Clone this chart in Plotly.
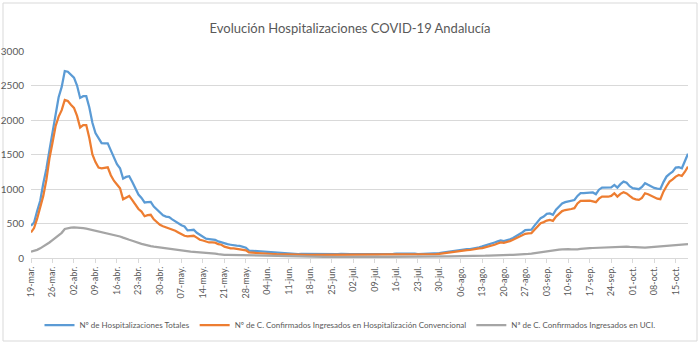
import pandas as pd
import plotly.graph_objects as go

start_date = "2020-03-19"

totales = [
    467, 515, 680, 830, 1080, 1290, 1560,
    1800, 2050, 2330, 2480, 2710, 2700, 2650,
    2615, 2500, 2320, 2345, 2345, 2180, 1960,
    1810, 1740, 1665, 1660, 1662, 1560, 1450,
    1360, 1300, 1150, 1175, 1185, 1100, 1000,
    920, 870, 805, 810, 812, 745, 700,
    660, 620, 600, 592, 560, 530, 496,
    475, 457, 400, 405, 409, 365, 335,
    303, 280, 275, 268, 264, 240, 225,
    210, 200, 192, 182, 178, 175, 165,
    150, 108, 105, 100, 96, 92, 90,
    86, 80, 74, 72, 68, 64, 62,
    60, 58, 57, 58, 60, 59, 57,
    56, 57, 58, 62, 60, 58, 57,
    56, 55, 56, 60, 62, 59, 57,
    56, 55, 57, 60, 59, 57, 56,
    55, 56, 58, 61, 63, 62, 60,
    62, 64, 66, 65, 63, 62, 64,
    55, 56, 57, 58, 60, 62, 66,
    72, 78, 85, 92, 100, 108, 118,
    122, 125, 128, 130, 135, 144, 155,
    168, 180, 192, 205, 225, 240, 254,
    246, 256, 272, 289, 312, 337, 370,
    405, 409, 410, 470, 530, 578, 600,
    640, 645, 626, 700, 750, 790, 810,
    818, 830, 840, 900, 940, 940, 945,
    948, 950, 925, 990, 1020, 1020, 1018,
    1025, 1060, 1020, 1070, 1107, 1090, 1040,
    1012, 1000, 997, 1030, 1084, 1060, 1035,
    1015, 1005, 1000, 1100, 1180, 1220, 1250,
    1310, 1315, 1300, 1420, 1510,
]

convencional = [
    370, 434, 570, 720, 900, 1130, 1440,
    1670, 1910, 2050, 2143, 2290, 2275, 2220,
    2176, 2060, 1890, 1926, 1926, 1740, 1500,
    1390, 1310, 1300, 1305, 1315, 1200, 1120,
    1065, 1010, 850, 880, 900, 840, 770,
    710, 673, 605, 620, 626, 560, 515,
    481, 460, 445, 434, 415, 395, 370,
    345, 322, 312, 315, 322, 295, 265,
    254, 235, 225, 225, 222, 200, 192,
    165, 150, 140, 138, 132, 130, 125,
    112, 80, 76, 74, 72, 70, 68,
    66, 62, 58, 56, 54, 52, 50,
    49, 48, 47, 47, 48, 48, 46,
    46, 46, 47, 49, 48, 47, 46,
    45, 45, 46, 48, 49, 47, 46,
    45, 44, 46, 48, 47, 46, 45,
    44, 45, 47, 50, 52, 51, 49,
    50, 52, 54, 53, 51, 50, 52,
    45, 46, 47, 48, 50, 52, 55,
    60, 66, 72, 80, 88, 96, 104,
    108, 110, 113, 116, 120, 130, 138,
    144, 155, 168, 180, 192, 210, 225,
    220, 230, 245, 264, 285, 305, 330,
    351, 358, 361, 410, 465, 505, 520,
    543, 553, 539, 600, 640, 680, 695,
    700, 710, 722, 790, 828, 828, 830,
    832, 820, 809, 860, 890, 890, 888,
    900, 939, 890, 930, 954, 935, 900,
    867, 850, 842, 870, 939, 925, 905,
    881, 860, 852, 962, 1040, 1107, 1141,
    1180, 1204, 1189, 1250, 1324,
]

uci = [
    91, 100, 118, 140, 165, 195, 225,
    260, 295, 330, 365, 420, 435, 440,
    442, 441, 438, 432, 425, 415, 405,
    398, 385, 372, 365, 356, 345, 332,
    320, 312, 295, 275, 264, 250, 232,
    220, 205, 195, 180, 172, 165, 158,
    153, 146, 140, 130, 125, 118, 110,
    105, 98, 95, 92, 90, 87, 84,
    80, 75, 72, 68, 62, 55, 48,
    47, 46, 45, 45, 44, 43, 42,
    40, 38, 36, 34, 32, 30, 29,
    28, 27, 25, 24, 22, 20, 19,
    18, 17, 17, 16, 16, 15, 15,
    15, 14, 14, 14, 13, 13, 13,
    13, 12, 12, 12, 12, 12, 12,
    12, 12, 12, 13, 13, 13, 13,
    13, 13, 14, 14, 14, 15, 15,
    15, 15, 16, 16, 16, 17, 17,
    17, 18, 18, 19, 20, 20, 21,
    21, 22, 22, 23, 23, 24, 24,
    25, 25, 26, 27, 28, 29, 30,
    31, 33, 35, 38, 40, 42, 44,
    45, 46, 47, 47, 48, 50, 54,
    55, 60, 65, 72, 78, 84, 88,
    95, 105, 110, 115, 120, 125, 130,
    128, 125, 120, 125, 132, 139, 141,
    143, 145, 147, 150, 155, 159, 159,
    159, 160, 162, 165, 168, 166, 162,
    159, 152, 148, 144, 150, 155, 159,
    162, 165, 168, 170, 172, 175, 178,
    185, 190, 195, 200, 202,
]

tick_labels = [
    "19-mar.", "26-mar.", "02-abr.", "09-abr.", "16-abr.", "23-abr.", "30-abr.",
    "07-may.", "14-may.", "21-may.", "28-may.", "04-jun.", "11-jun.", "18-jun.",
    "25-jun.", "02-jul.", "09-jul.", "16-jul.", "23-jul.", "30-jul.", "06-ago.",
    "13-ago.", "20-ago.", "27-ago.", "03-sep.", "10-sep.", "17-sep.", "24-sep.",
    "01-oct.", "08-oct.", "15-oct.",
]

series_names = [
    "Nº de Hospitalizaciones Totales",
    "Nº de C. Confirmados Ingresados en Hospitalización Convencional",
    "Nª de C. Confirmados Ingresados en UCI.",
]
colors = ["#5B9BD5", "#ED7D31", "#A5A5A5"]

dates = pd.date_range(start_date, periods=len(totales), freq="D")
tick_vals = list(dates[::7])[: len(tick_labels)]

FONT = "Lato"
GREY_TXT = "#595959"

fig = go.Figure()
for name, vals, col in zip(series_names, [totales, convencional, uci], colors):
    fig.add_trace(go.Scatter(x=dates, y=vals, mode="lines", name=name,
                             line=dict(color=col, width=2.25)))

# plot area: x 31..688, y 51..258
L, R, T, B = 31, 12, 51, 86
pw, ph = 700 - L - R, 344 - T - B

fig.update_layout(
    width=700, height=344,
    margin=dict(l=L, r=R, t=T, b=B, autoexpand=False),
    paper_bgcolor="white", plot_bgcolor="white",
    font=dict(family=FONT, color=GREY_TXT),
    title=dict(text="Evolución Hospitalizaciones COVID-19 Andalucía",
               x=0.5, xref="container", xanchor="center",
               y=1 - 28 / 344, yref="container", yanchor="middle",
               font=dict(family=FONT, size=13, color=GREY_TXT)),
    showlegend=True,
    legend=dict(orientation="h", xref="container", yref="container",
                x=0.5, xanchor="center",
                y=1 - 325 / 344, yanchor="middle",
                font=dict(family=FONT, size=8, color=GREY_TXT),
                bgcolor="rgba(0,0,0,0)", itemwidth=30, tracegroupgap=0),
    shapes=[dict(type="rect", xref="paper", yref="paper",
                 x0=(3 - L) / pw, x1=(697 - L) / pw,
                 y0=(258 - 341) / ph, y1=(258 - 3) / ph,
                 line=dict(color="#D9D9D9", width=1), layer="below")],
)
fig.update_xaxes(
    range=[dates[0], dates[-1]], showgrid=False, zeroline=False,
    showline=True, linecolor="#D9D9D9", linewidth=1,
    ticks="outside", ticklen=4, tickcolor="#D9D9D9",
    tickvals=tick_vals, ticktext=tick_labels, tickangle=-90,
    tickfont=dict(family=FONT, size=9, color=GREY_TXT),
)
fig.update_yaxes(
    range=[0, 3000], dtick=500, showgrid=True, gridcolor="#D9D9D9", gridwidth=1,
    zeroline=False, showline=False, ticks="", ticklabelstandoff=6,
    tickfont=dict(family=FONT, size=10, color=GREY_TXT),
)

fig.write_html("out.html")
